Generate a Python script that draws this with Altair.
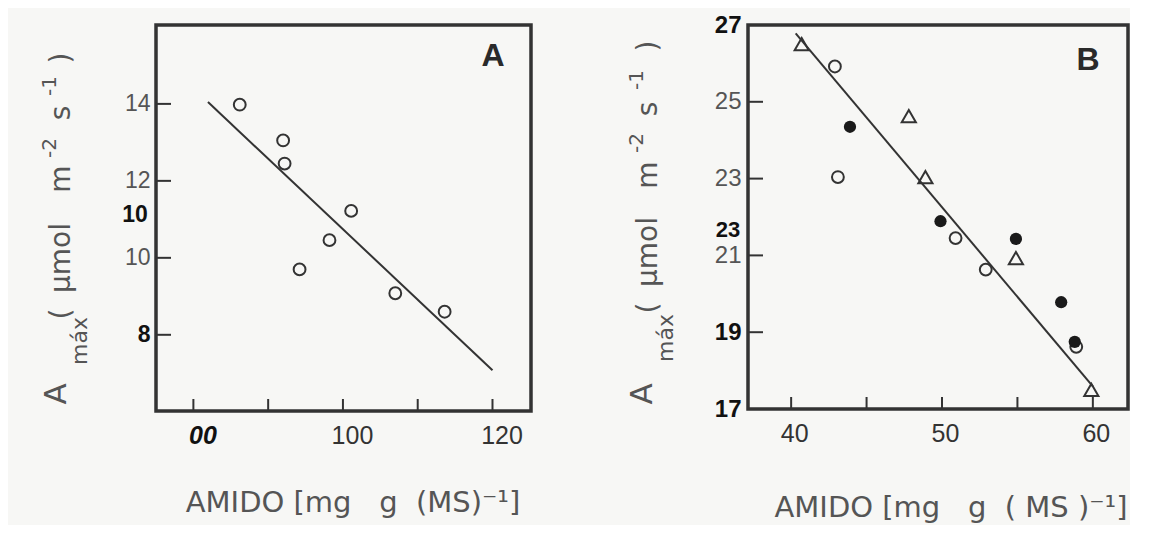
import altair as alt
import pandas as pd

# ---------------- data ----------------
# Panel A
a_x = [86.2, 92.0, 92.2, 94.2, 98.2, 101.1, 107.0, 113.6]
a_y = [13.98, 13.05, 12.45, 9.7, 10.46, 11.22, 9.08, 8.6]
a_line_x = [81.95, 120.0]
a_line_y = [14.05, 7.08]
a_xticks = [80, 90, 100, 110, 120]
a_xlabels = [80, 100, 120]
a_yticks = [8, 10, 12, 14]

# Panel B
b_tri_x = [40.7, 47.8, 48.9, 54.9, 59.9]
b_tri_y = [26.5, 24.63, 23.04, 20.93, 17.50]
b_open_x = [42.9, 43.1, 50.9, 52.9, 58.9]
b_open_y = [25.92, 23.04, 21.45, 20.63, 18.62]
b_fill_x = [43.9, 49.9, 54.9, 57.9, 58.8]
b_fill_y = [24.35, 21.89, 21.43, 19.78, 18.75]
b_line_x = [40.3, 60.0]
b_line_y = [26.78, 17.59]
b_xticks = [40, 45, 50, 55, 60]
b_xlabels = [40, 50, 60]
b_yticks = [17, 19, 21, 23, 25, 27]

BG = "#f7f7f5"
INK = "#333333"
GRAY = "#555555"
FONT = "Liberation Sans"
TFONT = "DejaVu Sans"
NB = "\u00a0"


def txt(s, x, y, size=30, angle=0, color=GRAY, weight="normal", style="normal", font=FONT):
    return alt.Chart(pd.DataFrame({"t": [s]})).mark_text(
        font=font, fontSize=size, angle=angle, color=color, fontWeight=weight,
        fontStyle=style, align="center", baseline="middle"
    ).encode(text="t:N", x=alt.value(x), y=alt.value(y))


def ytitle(ox, ax, ay, mx, my, cx, ys, sx):
    """Rotated y-axis title 'A_max ( umol m^-2 s^-1 )' built from pieces (page coords)."""
    parts = [txt("A", ax - ox, ay, size=31, angle=270, font=TFONT),
             txt("máx", mx - ox, my, size=22, angle=270, font=TFONT)]
    main = ["(", "µmol", "m", "s", ")"]
    sup = ["-2", "-1"]
    for s, yy in zip(main, [ys[0], ys[1], ys[2], ys[4], ys[6]]):
        parts.append(txt(s, cx - ox, yy, size=28, angle=270, font=TFONT))
    for s, yy in zip(sup, [ys[3], ys[5]]):
        parts.append(txt(s, sx - ox, yy, size=20, angle=270, font=TFONT))
    return parts


def inner_ticks(vals, scale, axis, orient, H, length):
    df = pd.DataFrame({"v": vals})
    c = alt.Chart(df).mark_rule(color=INK, strokeWidth=2)
    if orient == "x":
        return c.encode(x=alt.X("v:Q", scale=scale, axis=axis),
                        y=alt.value(H), y2=alt.value(H - length))
    return c.encode(y=alt.Y("v:Q", scale=scale, axis=axis),
                    x=alt.value(0), x2=alt.value(length))


def xaxis(values, expr, bold_test, offset):
    return alt.Axis(values=values, ticks=False, domain=False, grid=False, title=None,
                    labelFont=FONT, labelFontSize=25, labelPadding=12, labelOffset=offset,
                    labelFlush=False, labelExpr=expr,
                    labelColor={"condition": {"test": bold_test, "value": "#111111"}, "value": "#333333"},
                    labelFontStyle={"condition": {"test": bold_test, "value": "italic"}, "value": "normal"},
                    labelFontWeight={"condition": {"test": bold_test, "value": "bold"}, "value": "normal"})


def yaxis(values, bold_test, pad, size):
    return alt.Axis(values=values, ticks=False, domain=False, grid=False, title=None,
                    labelFont=FONT, labelFontSize=size, labelPadding=pad, labelFlush=False,
                    labelColor={"condition": {"test": bold_test, "value": "#111111"}, "value": GRAY},
                    labelFontWeight={"condition": {"test": bold_test, "value": "bold"}, "value": "normal"})


# ---------------- Panel A ----------------
OXA, OXB = 155, 747
WA, HA = 375, 386
xsa = alt.Scale(domain=[75.0, 125.15], nice=False, zero=False)
ysa = alt.Scale(domain=[6.02, 16.05], nice=False, zero=False)
xax_a = xaxis(a_xlabels, "datum.value == 80 ? '00' : datum.label", "datum.value == 80", 9)
yax_a = yaxis(a_yticks, "datum.value == 8", 6, 23)

pts_a = alt.Chart(pd.DataFrame({"x": a_x, "y": a_y})).mark_point(
    shape="circle", size=140, filled=False, color=INK, strokeWidth=2, opacity=1).encode(
    x=alt.X("x:Q", scale=xsa, axis=xax_a),
    y=alt.Y("y:Q", scale=ysa, axis=yax_a),
)
line_a = alt.Chart(pd.DataFrame({"x": a_line_x, "y": a_line_y})).mark_line(
    color=INK, strokeWidth=2).encode(
    x=alt.X("x:Q", scale=xsa, axis=xax_a), y=alt.Y("y:Q", scale=ysa, axis=yax_a))

bound_a = alt.Chart(pd.DataFrame({"t": [0]})).mark_rule(color=BG, strokeWidth=1).encode(
    x=alt.value(-145), x2=alt.value(-144), y=alt.value(-14), y2=alt.value(-13))

panel_a = alt.layer(
    pts_a,
    line_a,
    inner_ticks(a_xticks, xsa, xax_a, "x", HA, 12),
    inner_ticks(a_yticks, ysa, yax_a, "y", HA, 15),
    bound_a,
    txt("A", 492 - OXA, 31, size=32, color="#2a2a2a", weight="bold"),
    *ytitle(OXA, 56, 369, 79, 316, 61, [289, 233, 154, 123, 88, 61, 33], 49),
    txt("AMIDO" + NB + "[mg" + NB * 3 + "g" + NB * 2 + "(MS)⁻¹]", 352 - OXA, 478, size=29, font=TFONT),
    txt("10", 134 - OXA, 190, size=23, color="#111111", weight="bold"),
).properties(width=WA, height=HA)

# ---------------- Panel B ----------------
WB, HB = 380, 384
xsb = alt.Scale(domain=[37.14, 62.33], nice=False, zero=False)
ysb = alt.Scale(domain=[17, 27], nice=False, zero=False)
bold_b = "datum.value == 17 || datum.value == 19 || datum.value == 27"
xax_b = xaxis(b_xlabels, "datum.label", "false", 3)
yax_b = yaxis(b_yticks, bold_b, 7, 24)

tri_b = alt.Chart(pd.DataFrame({"x": b_tri_x, "y": b_tri_y})).mark_point(
    shape="triangle-up", size=200, filled=False, color=INK, strokeWidth=2, opacity=1).encode(
    x=alt.X("x:Q", scale=xsb, axis=xax_b),
    y=alt.Y("y:Q", scale=ysb, axis=yax_b),
)
open_b = alt.Chart(pd.DataFrame({"x": b_open_x, "y": b_open_y})).mark_point(
    shape="circle", size=140, filled=False, color=INK, strokeWidth=2, opacity=1).encode(
    x=alt.X("x:Q", scale=xsb, axis=xax_b), y=alt.Y("y:Q", scale=ysb, axis=yax_b))
fill_b = alt.Chart(pd.DataFrame({"x": b_fill_x, "y": b_fill_y})).mark_point(
    shape="circle", size=150, filled=True, color="#1a1a1a", opacity=1).encode(
    x=alt.X("x:Q", scale=xsb, axis=xax_b), y=alt.Y("y:Q", scale=ysb, axis=yax_b))
line_b = alt.Chart(pd.DataFrame({"x": b_line_x, "y": b_line_y})).mark_line(
    color=INK, strokeWidth=2).encode(
    x=alt.X("x:Q", scale=xsb, axis=xax_b), y=alt.Y("y:Q", scale=ysb, axis=yax_b))

panel_b = alt.layer(
    tri_b, open_b, fill_b, line_b,
    inner_ticks(b_xticks, xsb, xax_b, "x", HB, 12),
    inner_ticks([19, 21, 23, 25], ysb, yax_b, "y", HB, 15),
    txt("B", 1087 - OXB, 35, size=32, color="#2a2a2a", weight="bold"),
    *ytitle(OXB, 642, 369, 665, 313, 648, [283, 227, 150, 118, 84, 55, 21], 636),
    txt("AMIDO" + NB + "[mg" + NB * 3 + "g" + NB * 2 + "(" + NB + "MS" + NB + ")⁻¹]", 950 - OXB, 483, size=29, font=TFONT),
    txt("23", 727 - OXB, 205, size=22, color="#111111", weight="bold"),
).properties(width=WB, height=HB)

chart = alt.hconcat(panel_a, panel_b, spacing=OXB - OXA - WA, bounds="flush").properties(
    padding=0
).configure(background=BG).configure_view(stroke=INK, strokeWidth=3.5)

chart.save("out.html", embed_options={"renderer": "svg", "actions": False})
